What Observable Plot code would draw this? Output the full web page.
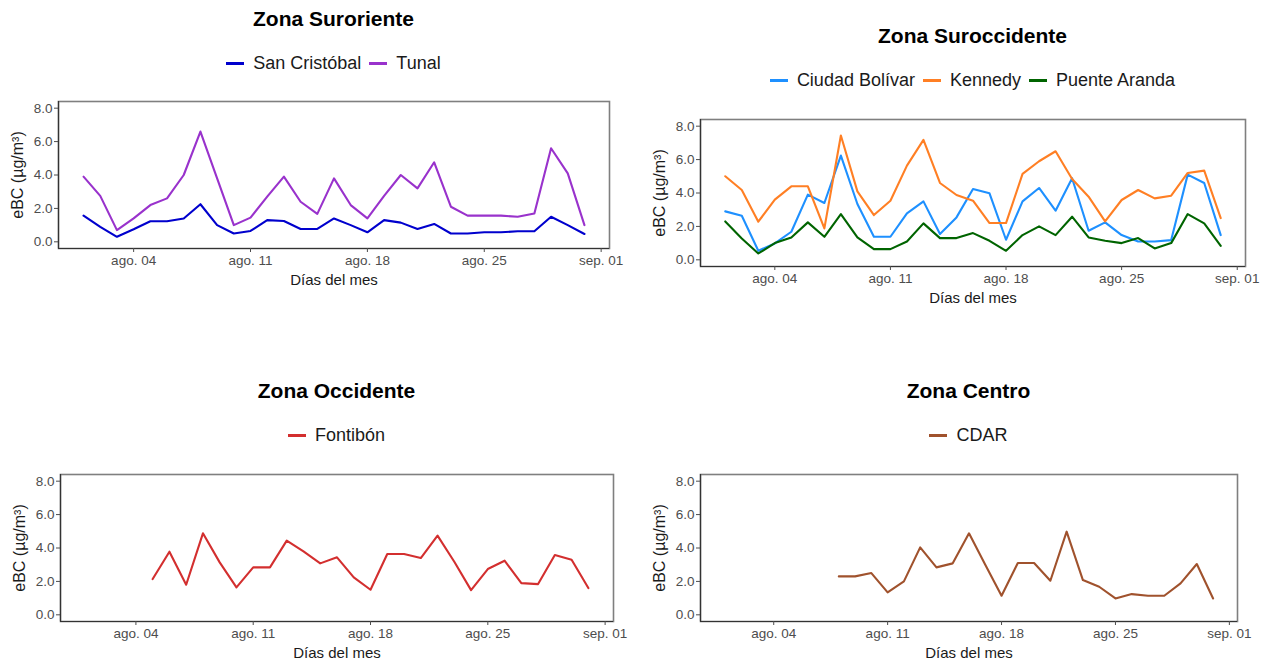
<!DOCTYPE html>
<html><head><meta charset="utf-8">
<script src="https://cdn.jsdelivr.net/npm/d3@7"></script>
<script src="https://cdn.jsdelivr.net/npm/@observablehq/plot@0.6"></script>
<style>
html,body{margin:0;padding:0;background:#fff;width:1261px;height:666px;overflow:hidden;}
.title{position:absolute;font-family:"Liberation Sans",Arial,sans-serif;font-weight:bold;font-size:21px;line-height:24px;color:#000;text-align:center;white-space:nowrap;}
.legend{position:absolute;display:flex;justify-content:center;align-items:center;font-family:"Liberation Sans",Arial,sans-serif;font-size:18px;line-height:24px;color:#1a1a1a;white-space:nowrap;}
.item{display:flex;align-items:center;margin:0 4px;}
.key{display:inline-block;width:18px;height:3px;margin-right:9px;}
.chart{position:absolute;overflow:hidden;}
</style></head><body>
<div id="root"></div>
<script>
// ---- datos ----
const dias = [1,2,3,4,5,6,7,8,9,10,11,12,13,14,15,16,17,18,19,20,21,22,23,24,25,26,27,28,29,30,31];

const sanCristobal = [1.57,0.9,0.3,0.75,1.23,1.23,1.4,2.25,1.0,0.5,0.65,1.3,1.25,0.77,0.77,1.4,1.0,0.57,1.3,1.15,0.77,1.07,0.5,0.5,0.57,0.57,0.63,0.63,1.5,1.0,0.47];
const tunal = [3.9,2.75,0.7,1.4,2.2,2.6,4.0,6.6,3.8,1.0,1.45,2.7,3.9,2.4,1.67,3.8,2.2,1.4,2.75,4.0,3.2,4.76,2.1,1.57,1.57,1.57,1.5,1.7,5.6,4.1,1.0];

const ciudadBolivar = [2.9,2.64,0.54,0.98,1.68,3.9,3.4,6.24,3.34,1.38,1.38,2.78,3.5,1.54,2.54,4.24,3.98,1.2,3.5,4.3,2.94,4.88,1.74,2.24,1.48,1.1,1.1,1.18,5.1,4.6,1.48];
const kennedy = [5.0,4.18,2.28,3.6,4.4,4.4,1.88,7.44,4.1,2.68,3.54,5.64,7.18,4.6,3.88,3.54,2.2,2.2,5.14,5.9,6.5,4.84,3.78,2.3,3.58,4.18,3.68,3.84,5.2,5.34,2.5];
const puenteAranda = [2.3,1.28,0.38,1.0,1.34,2.24,1.38,2.74,1.34,0.64,0.64,1.1,2.18,1.3,1.3,1.6,1.14,0.54,1.48,2.0,1.48,2.58,1.34,1.14,1.0,1.3,0.68,1.0,2.74,2.18,0.84];

const fontibon = [null,null,null,null,2.14,3.78,1.8,4.88,3.14,1.64,2.84,2.84,4.44,3.8,3.08,3.44,2.24,1.5,3.64,3.64,3.4,4.74,3.18,1.48,2.74,3.24,1.9,1.84,3.58,3.3,1.6];
const cdar = [null,null,null,null,null,null,null,2.3,2.3,2.5,1.34,2.0,4.04,2.84,3.08,4.88,3.0,1.14,3.1,3.1,2.04,4.98,2.08,1.68,0.98,1.24,1.14,1.14,1.88,3.04,0.98];

const xTickDays = ["2023-08-04","2023-08-11","2023-08-18","2023-08-25","2023-09-01"];
const xTickLabels = ["ago. 04","ago. 11","ago. 18","ago. 25","sep. 01"];
const yTicks = [0,2,4,6,8];
const yLabel = "eBC (µg/m³)";
const xLabel = "Días del mes";

const panels = [
  {title:"Zona Suroriente", names:["San Cristóbal","Tunal"], values:[sanCristobal,tunal], colors:["#0000CD","#9932CC"],
   left:0, top:95, width:630, height:203, mL:58, mR:21, mB:50, titleY:19, legendY:63},
  {title:"Zona Suroccidente", names:["Ciudad Bolívar","Kennedy","Puente Aranda"], values:[ciudadBolivar,kennedy,puenteAranda], colors:["#1E90FF","#FF7F24","#006400"],
   left:630, top:113, width:631, height:203, mL:70, mR:16, mB:50, titleY:36, legendY:80},
  {title:"Zona Occidente", names:["Fontibón"], values:[fontibon], colors:["#D32F2F"],
   left:0, top:468, width:630, height:198, mL:60, mR:17, mB:45, titleY:391, legendY:435},
  {title:"Zona Centro", names:["CDAR"], values:[cdar], colors:["#A0522D"],
   left:630, top:468, width:631, height:198, mL:70, mR:24, mB:45, titleY:391, legendY:435}
];

// ---- dibujo ----
const root = document.getElementById("root");
const xDomain = [new Date(Date.UTC(2023,6,30,12)), new Date(Date.UTC(2023,8,1,12))];
const xTicks = xTickDays.map(s => new Date(s + "T00:00:00Z"));
const labelOf = new Map(xTicks.map((d,i) => [+d, xTickLabels[i]]));
const yDomain = [-0.4, 8.4];
const mT = 6;

for (const p of panels) {
  const rows = [];
  p.names.forEach((name, k) => {
    dias.forEach((d, i) => {
      const v = p.values[k][i];
      if (v != null) rows.push({fecha: new Date(Date.UTC(2023,7,d)), valor: v, estacion: name});
    });
  });
  const frameLeft = p.left + p.mL;
  const frameW = p.width - p.mL - p.mR;

  const t = document.createElement("div");
  t.className = "title";
  t.style.left = frameLeft + "px"; t.style.width = frameW + "px";
  t.style.top = (p.titleY - 12) + "px";
  t.textContent = p.title;
  root.appendChild(t);

  const lg = document.createElement("div");
  lg.className = "legend";
  lg.style.left = frameLeft + "px"; lg.style.width = frameW + "px";
  lg.style.top = (p.legendY - 12) + "px";
  p.names.forEach((n, k) => {
    const it = document.createElement("span"); it.className = "item";
    const key = document.createElement("span"); key.className = "key"; key.style.background = p.colors[k];
    const tx = document.createElement("span"); tx.textContent = n;
    it.appendChild(key); it.appendChild(tx); lg.appendChild(it);
  });
  root.appendChild(lg);

  const chart = Plot.plot({
    width: p.width, height: p.height,
    marginLeft: p.mL, marginRight: p.mR, marginTop: mT, marginBottom: p.mB,
    style: {fontFamily: '"Liberation Sans",Arial,sans-serif', fontSize: "13.5px", background: "#fff"},
    x: {type: "utc", domain: xDomain},
    y: {domain: yDomain},
    color: {domain: p.names, range: p.colors},
    marks: [
      Plot.frame({stroke: "#7f7f7f", strokeWidth: 1.6}),
      Plot.ruleY([yDomain[0]], {stroke: "#333", strokeWidth: 1.2}),
      Plot.ruleX([xDomain[0]], {stroke: "#333", strokeWidth: 1.2}),
      Plot.lineY(rows, {x: "fecha", y: "valor", z: "estacion", stroke: "estacion", strokeWidth: 2.1}),
      Plot.axisX({ticks: xTicks, tickFormat: d => labelOf.get(+d), tickSize: 4, tickPadding: 3, color: "#4d4d4d", label: null}),
      Plot.axisY({ticks: yTicks, tickFormat: d => d.toFixed(1), tickSize: 4, tickPadding: 2, color: "#4d4d4d", label: null}),
      Plot.text([xLabel], {text: d => d, frameAnchor: "bottom", dy: 36, fontSize: 15, fill: "#1a1a1a", textAnchor: "middle"}),
      Plot.text([yLabel], {text: d => d, frameAnchor: "left", dx: -41, rotate: -90, fontSize: 16, fill: "#1a1a1a", textAnchor: "middle"})
    ]
  });
  const wrap = document.createElement("div");
  wrap.className = "chart";
  wrap.style.left = p.left + "px"; wrap.style.top = p.top + "px";
  wrap.style.width = p.width + "px"; wrap.style.height = p.height + "px";
  wrap.appendChild(chart);
  root.appendChild(wrap);
}
</script></body></html>
